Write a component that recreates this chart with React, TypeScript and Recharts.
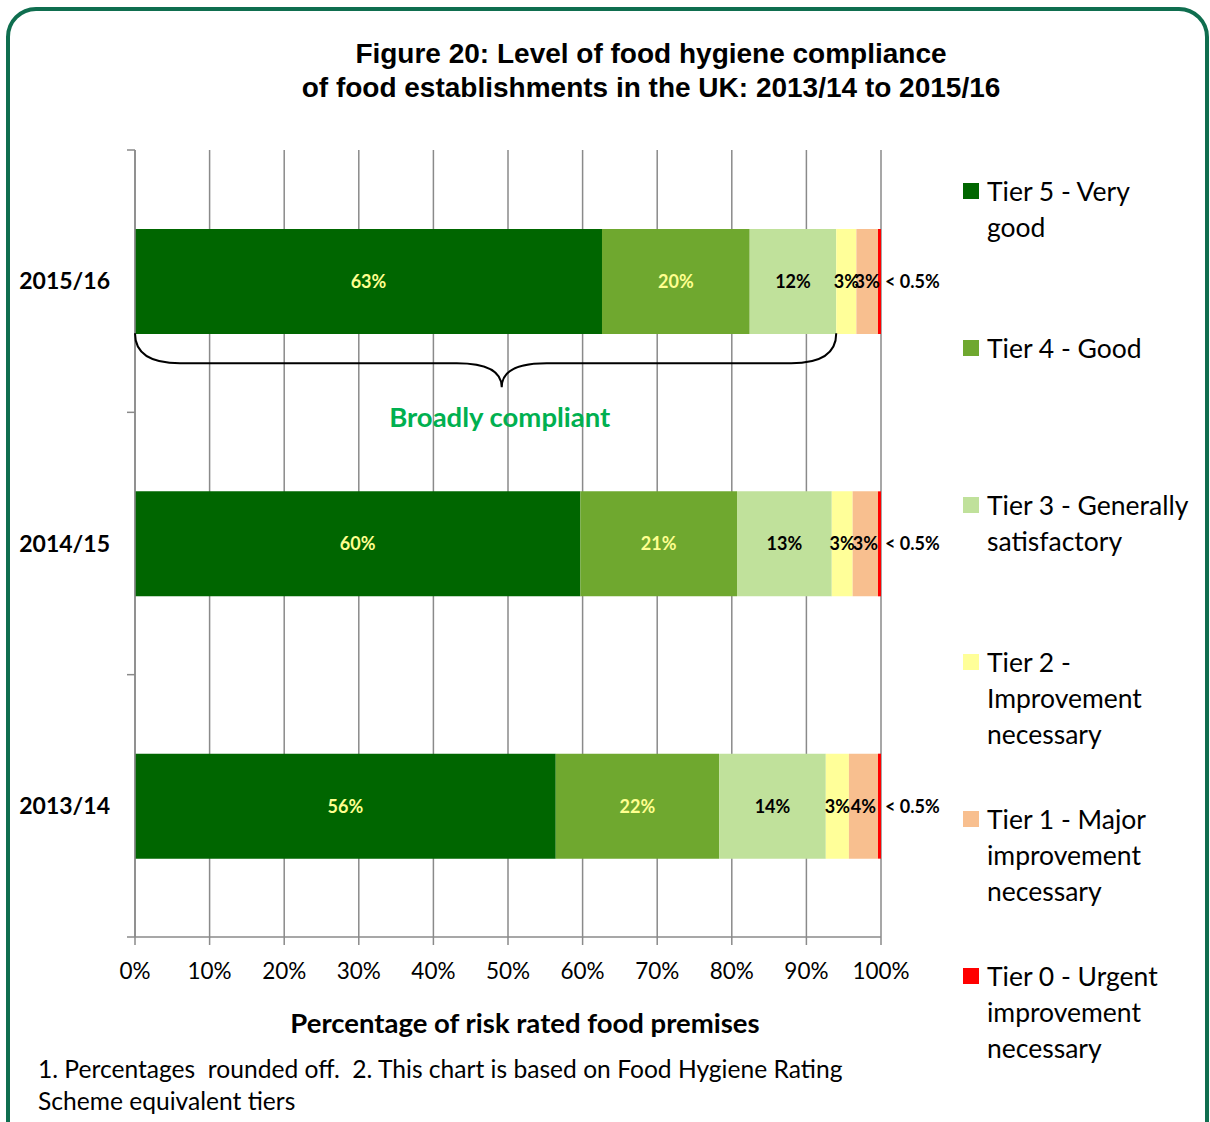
import { BarChart, Bar, XAxis, YAxis, CartesianGrid, LabelList } from 'recharts';

const years = ['2015/16', '2014/15', '2013/14'];
const tier5 = [62.6, 59.7, 56.4];
const tier4 = [19.8, 21.0, 21.9];
const tier3 = [11.6, 12.7, 14.3];
const tier2 = [2.7, 2.8, 3.1];
const tier1 = [2.9, 3.4, 3.9];
const tier0 = [0.4, 0.4, 0.4];
const xTicks = [0, 10, 20, 30, 40, 50, 60, 70, 80, 90, 100];

const series = [
  { key: 't5', name: 'Tier 5 - Very good', color: '#006600', labelColor: '#FFFF8F', values: tier5 },
  { key: 't4', name: 'Tier 4 - Good', color: '#6FA82F', labelColor: '#FFFF8F', values: tier4 },
  { key: 't3', name: 'Tier 3 - Generally satisfactory', color: '#C0E19B', labelColor: '#000', values: tier3 },
  { key: 't2', name: 'Tier 2 - Improvement necessary', color: '#FFFF99', labelColor: '#000', values: tier2 },
  { key: 't1', name: 'Tier 1 - Major improvement necessary', color: '#F8BF8F', labelColor: '#000', values: tier1 },
  { key: 't0', name: 'Tier 0 - Urgent improvement necessary', color: '#FF0000', labelColor: '#000', values: tier0 },
];

const data = years.map((year, i) => {
  const row: Record<string, string | number> = { year };
  series.forEach((s) => (row[s.key] = s.values[i]));
  return row;
});

// plot area geometry (matches margins below)
const W = 1210;
const H = 1122;
const M = { top: 150, right: 329, bottom: 145, left: 35 };
const Y_AXIS_W = 100;
const X_AXIS_H = 40;
const plotLeft = M.left + Y_AXIS_W;
const plotW = W - plotLeft - M.right;
const plotTop = M.top;
const plotH = H - M.top - M.bottom - X_AXIS_H;

const FONT = 'Lato, "Open Sans", sans-serif';
const GRID = '#8a8a8a';

// brace covers tiers 5..3 of the top bar
const broadly = tier5[0] + tier4[0] + tier3[0];

function Brace() {
  const band = plotH / years.length;
  const x0 = plotLeft;
  const x1 = plotLeft + (broadly / 100) * plotW;
  const xm = x0 + (x1 - x0) * 0.523;
  const y0 = plotTop + band / 2 + 52;
  const y1 = y0 + 30;
  const y2 = y0 + 54;
  const r = 45;
  const d = `M${x0},${y0} Q${x0},${y1} ${x0 + r},${y1} L${xm - r},${y1} Q${xm},${y1} ${xm},${y2} Q${xm},${y1} ${xm + r},${y1} L${x1 - r},${y1} Q${x1},${y1} ${x1},${y0}`;
  return (
    <svg width={W} height={H} style={{ position: 'absolute', left: 0, top: 0, pointerEvents: 'none' }}>
      {[0, 1, 2, 3].map((i) => (
        <line key={i} x1={plotLeft - 8} x2={plotLeft} y1={plotTop + i * band} y2={plotTop + i * band} stroke={GRID} strokeWidth={1.5} />
      ))}
      <path d={d} fill="none" stroke="#000" strokeWidth={2} />
      <text x={xm - 2} y={y2 + 40} textAnchor="middle" fontFamily={FONT} fontWeight={700} fontSize={27.5} fill="#00B050">
        Broadly compliant
      </text>
    </svg>
  );
}

export default function App() {
  return (
    <div style={{ position: 'absolute', left: 0, top: 0, width: W, height: H, overflow: 'hidden', background: '#fff', fontFamily: FONT }}>
      <div
        style={{
          position: 'absolute',
          left: 6,
          top: 7,
          width: W - 15,
          height: H + 20,
          border: '4px solid #0F6E4F',
          borderRadius: 30,
        }}
      />
      <div
        style={{
          position: 'absolute',
          left: 0,
          width: 1302,
          top: 37,
          textAlign: 'center',
          fontFamily: '"Liberation Sans", Arial, sans-serif',
          fontWeight: 700,
          fontSize: 28,
          lineHeight: '34px',
        }}
      >
        Figure 20: Level of food hygiene compliance
        <br />
        of food establishments in the UK: 2013/14 to 2015/16
      </div>

      <BarChart
        width={W}
        height={H}
        data={data}
        layout="vertical"
        margin={M}
        barSize={105}
        style={{ position: 'absolute', left: 0, top: 0 }}
      >
        <CartesianGrid horizontal={false} vertical stroke={GRID} strokeWidth={1.5} />
        <XAxis
          type="number"
          domain={[0, 100]}
          ticks={xTicks}
          height={X_AXIS_H}
          tickFormatter={(v) => `${v}%`}
          stroke={GRID}
          strokeWidth={1.5}
          tickSize={8}
          tickMargin={18}
          tick={{ fill: '#000', fontSize: 22.5, fontFamily: FONT }}
          allowDataOverflow
        />
        <YAxis
          type="category"
          dataKey="year"
          width={Y_AXIS_W}
          stroke={GRID}
          strokeWidth={1.5}
          tickLine={false}
          tickSize={0}
          tickMargin={25}
          tick={{ fill: '#000', fontSize: 23, fontWeight: 700, fontFamily: FONT }}
        />
        {series.map((s) => (
          <Bar key={s.key} dataKey={s.key} name={s.name} stackId="a" fill={s.color} isAnimationActive={false}>
            <LabelList
              dataKey={s.key}
              position={s.key === 't0' ? 'right' : 'center'}
              offset={4}
              formatter={(v: number) => (s.key === 't0' ? '< 0.5%' : `${Math.round(v)}%`)}
              style={{ fill: s.labelColor, fontSize: 18, fontWeight: 700, fontFamily: FONT }}
            />
          </Bar>
        ))}
      </BarChart>

      <Brace />

      <div
        style={{
          position: 'absolute',
          left: plotLeft + 17,
          width: plotW,
          top: 1005,
          textAlign: 'center',
          fontWeight: 700,
          fontSize: 27.5,
          lineHeight: '36px',
        }}
      >
        Percentage of risk rated food premises
      </div>

      <div
        style={{
          position: 'absolute',
          left: 38,
          width: 830,
          top: 1053,
          fontSize: 24.6,
          lineHeight: '32px',
          whiteSpace: 'pre-wrap',
        }}
      >
        {'1. Percentages  rounded off.  2. This chart is based on Food Hygiene Rating Scheme equivalent tiers'}
      </div>

      {series.map((s, i) => (
        <div key={s.key} style={{ position: 'absolute', left: 963, top: 173 + i * 157, width: 230, display: 'flex' }}>
          <div style={{ width: 16, height: 16, background: s.color, marginTop: 10, flex: 'none' }} />
          <div style={{ marginLeft: 8, width: 204, fontSize: 26.5, lineHeight: '36px' }}>{s.name}</div>
        </div>
      ))}
    </div>
  );
}
